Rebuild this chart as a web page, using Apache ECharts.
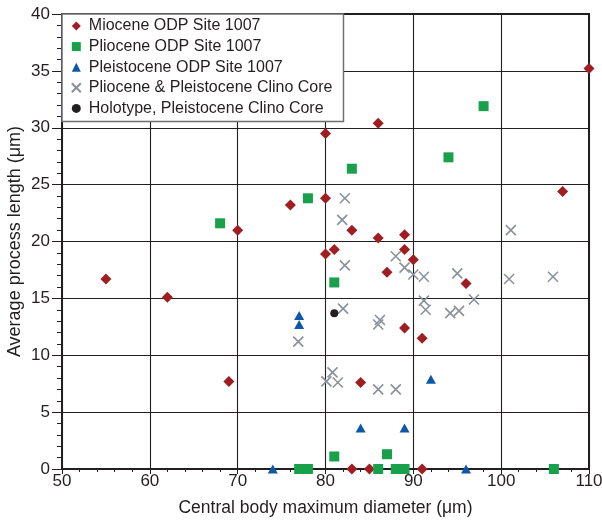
<!DOCTYPE html>
<html>
<head>
<meta charset="utf-8">
<script src="https://cdn.jsdelivr.net/npm/echarts@6/dist/echarts.min.js"></script>
<style>html,body{margin:0;padding:0;background:#fff;}#c{width:602px;height:522px;}</style>
</head>
<body>
<div id="c"></div>
<script>
// Data: [central body max diameter (µm), average process length (µm)]
var seriesNames = ['Miocene ODP Site 1007', 'Pliocene ODP Site 1007', 'Pleistocene ODP Site 1007', 'Pliocene & Pleistocene Clino Core', 'Holotype, Pleistocene Clino Core'];
var miocene = [[55,16.7],[62,15.1],[69,7.7],[70,21],[76,23.2],[80,23.8],[80,18.9],[80,29.5],[81,19.3],[83,21],[86,30.4],[86,20.3],[89,20.6],[89,19.3],[90,18.4],[87,17.3],[96,16.3],[107,24.4],[110,35.2],[89,12.4],[91,11.5],[84,7.6],[83,0],[85,0],[91,0]];
var pliocene = [[68,21.6],[78,23.8],[83,26.4],[94,27.4],[98,31.9],[81,16.4],[81,1.1],[87,1.3],[77,0],[78,0],[86,0],[88,0],[89,0],[106,0]];
var pleistocene = [[77,13.5],[77,12.7],[74,0],[84,3.6],[89,3.6],[92,7.9],[96,0]];
var clino = [[82.2,23.8],[81.9,21.9],[82.2,17.9],[88,18.7],[89,17.7],[90,17.1],[91.2,16.9],[95,17.2],[96.9,14.9],[91.2,14.8],[91.4,14.0],[94.2,13.7],[95.2,13.9],[101.1,21.0],[100.9,16.7],[105.9,16.9],[82,14.1],[86.2,13.1],[86,12.7],[76.9,11.2],[80.1,7.7],[80.8,8.5],[81.4,7.6],[86,7.0],[88,7.0]];
var holotype = [[81,13.7]];

var font = "'Liberation Sans', Arial, sans-serif";
var ink = '#231f20';
var chart = echarts.init(document.getElementById('c'));
chart.setOption({
  animation: false,
  backgroundColor: '#fff',
  grid: { left: 62, right: 13, top: 14, bottom: 53, show: true, borderColor: ink, borderWidth: 2,
          containLabel: false, outerBoundsMode: 'none' },
  legend: {
    orient: 'vertical', left: 62, top: 14,
    padding: [2, 11, 3, 8.8],
    itemWidth: 9, itemHeight: 9, itemGap: 0.6,
    backgroundColor: '#fff', borderColor: '#6d6e71', borderWidth: 1.5,
    textStyle: { fontFamily: font, fontSize: 16, color: ink, lineHeight: 20, padding: [0, 0, 0, 3] },
    data: seriesNames
  },
  xAxis: {
    type: 'value', min: 50, max: 110, interval: 10,
    name: 'Central body maximum diameter (μm)', nameLocation: 'middle', nameGap: 30, nameMoveOverlap: false,
    nameTextStyle: { fontFamily: font, fontSize: 17.5, color: ink },
    axisLine: { lineStyle: { color: ink, width: 2 } },
    axisTick: { length: 5, lineStyle: { color: ink, width: 1 } },
    minorTick: { show: true, splitNumber: 5, length: 3, lineStyle: { color: ink, width: 1 } },
    splitLine: { show: true, lineStyle: { color: ink, width: 1.1 } },
    axisLabel: { fontFamily: font, fontSize: 17, color: ink, margin: 4 }
  },
  yAxis: {
    type: 'value', min: 0, max: 40, interval: 5,
    name: 'Average process length (μm)', nameLocation: 'middle', nameGap: 38, nameMoveOverlap: false,
    nameTextStyle: { fontFamily: font, fontSize: 18, color: ink },
    axisLine: { show: true, lineStyle: { color: ink, width: 2 } },
    axisTick: { show: true, length: 10, lineStyle: { color: ink, width: 1 } },
    minorTick: { show: true, splitNumber: 5, length: 5, lineStyle: { color: ink, width: 1 } },
    splitLine: { show: true, lineStyle: { color: ink, width: 1.1 } },
    axisLabel: { fontFamily: font, fontSize: 17, color: ink, margin: 12 }
  },
  series: [
    { name: seriesNames[0], type: 'scatter', data: miocene, symbol: 'diamond', symbolSize: 11, clip: false,
      itemStyle: { color: '#a01d22', opacity: 1 } },
    { name: seriesNames[1], type: 'scatter', data: pliocene, symbol: 'rect', symbolSize: 10, clip: false,
      itemStyle: { color: '#18a04a', opacity: 1 } },
    { name: seriesNames[2], type: 'scatter', data: pleistocene, symbol: 'triangle', symbolSize: [10, 9], clip: false,
      itemStyle: { color: '#0d58a6', opacity: 1 } },
    { name: seriesNames[3], type: 'scatter', data: clino, symbol: 'path://M0,0L10,10M10,0L0,10', symbolSize: 10, clip: false,
      itemStyle: { color: 'rgba(0,0,0,0)', borderColor: '#8a9199', borderWidth: 1.6, opacity: 1 } },
    { name: seriesNames[4], type: 'scatter', data: holotype, symbol: 'circle', symbolSize: 8, clip: false,
      itemStyle: { color: ink, opacity: 1 } }
  ]
});
</script>
</body>
</html>
